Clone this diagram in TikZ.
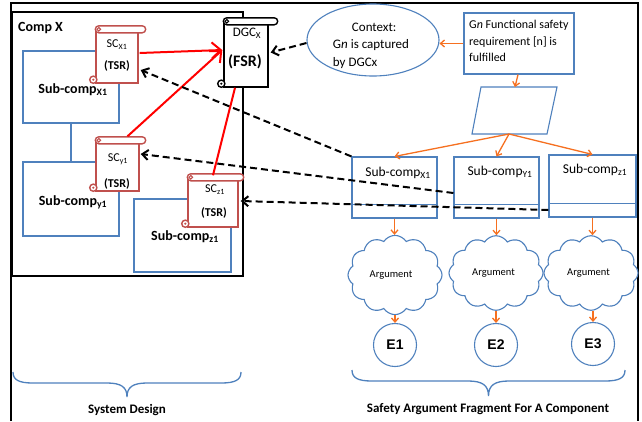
\documentclass[tikz,border=0pt]{standalone}
\usepackage{fontspec}
\setmainfont{Carlito}
\newfontfamily\evfont{Liberation Sans}
\usetikzlibrary{arrows.meta,calc,shapes.geometric,shapes.symbols}

\definecolor{boxblue}{RGB}{79,129,189}
\definecolor{flow}{RGB}{246,112,32}
\definecolor{scred}{RGB}{192,80,77}

% rolled top bar and bottom curl of a scroll-shaped node
\newcommand\scrollroll[3]{%
  \draw[#2, line width=1.4pt, fill=white, rounded corners=3.5pt]
    ($(#1.north west)+(0,-3.5)$) rectangle ($(#1.north east)+(#3,3.5)$);
  \draw[#2, line width=1pt] ($(#1.north west)+(3.5,0)$) circle (1.8pt);
  \draw[#2, line width=1.4pt, fill=white] ($(#1.south west)+(-2,-4)$) circle (3.6pt);
  \fill[#2] ($(#1.south west)+(-2,-4)$) circle (1.2pt);
}

\tikzset{
  bluebox/.style={rectangle, draw=boxblue, line width=1.1pt, fill=white, inner sep=0pt},
  scrollbody/.style={rectangle, draw=#1, line width=1.4pt, fill=white, inner sep=0pt},
  flowarrow/.style={draw=flow, line width=1.3pt, -{Straight Barb[length=4pt,width=7pt]}},
  traceline/.style={black, line width=2pt, dash pattern=on 7pt off 4pt,
    -{Straight Barb[length=6pt,width=10pt]}},
  redlink/.style={red, line width=2pt},
  redarrow/.style={redlink, -{Straight Barb[length=9pt,width=16pt]}},
  brace/.style={draw=boxblue, line width=1.3pt},
  lbl/.style={inner sep=0pt},
  subbold/.style={lbl, font=\bfseries\fontsize{14}{16}\selectfont},
  subreg/.style={lbl, font=\fontsize{13.5}{16}\selectfont},
  sctext/.style={lbl, font=\fontsize{12}{14}\selectfont},
  sctextb/.style={lbl, font=\bfseries\fontsize{12}{14}\selectfont},
  cloudnode/.style={cloud, cloud puffs=12, cloud puff arc=115, draw=boxblue, line width=1.1pt, fill=white,
    minimum width=94pt, minimum height=62pt, inner sep=0pt, font=\fontsize{10.5}{12}\selectfont},
  evnode/.style={circle, draw=boxblue, line width=1.1pt, minimum size=43pt, inner sep=0pt,
    font=\evfont\bfseries\fontsize{14}{16}\selectfont},
  caption/.style={lbl, font=\bfseries\fontsize{13}{15}\selectfont}
}

\begin{document}
\begin{tikzpicture}[x=1pt,y=-1pt]
\useasboundingbox (0,0) rectangle (642,421);
\fill[white] (0,0) rectangle (642,421);

% outer frame
\draw[line width=1.3pt] (11,421) -- (11,3) -- (638,3) -- (638,421);

% ---------------- system design side ----------------
\node[draw, line width=1.4pt, minimum width=231pt, minimum height=264pt, inner sep=0pt] (compx) at (127.5,144) {};
\node[lbl, anchor=west, font=\bfseries\fontsize{14}{16}\selectfont] (compxlbl) at (18,28) {Comp X};

\node[bluebox, minimum width=96pt, minimum height=72pt] (lx1) at (71,87) {};
\node[bluebox, minimum width=96pt, minimum height=74pt] (ly1) at (71,199) {};
\node[bluebox, minimum width=97pt, minimum height=73pt] (lz1) at (182.5,235.5) {};
\draw[boxblue, line width=1.1pt] (lx1.south) -- (ly1.north);

\node[subbold] (lx1t) at (73,90) {Sub-comp\textsubscript{X1}};
\node[subbold] (ly1t) at (73,202) {Sub-comp\textsubscript{y1}};
\node[subbold] (lz1t) at (185,237) {Sub-comp\textsubscript{z1}};

% safety contracts and the design-level guarantee contract
\node[scrollbody=scred, minimum width=42pt, minimum height=53pt] (scx1) at (117,56.5) {};
\scrollroll{scx1}{scred}{7}
\node[sctext] (scx1a) at (117,45) {SC\textsubscript{X1}};
\node[sctextb] (scx1b) at (117,66) {(TSR)};

\node[scrollbody=scred, minimum width=43pt, minimum height=50pt] (scy1) at (117.5,166) {};
\scrollroll{scy1}{scred}{6}
\node[sctext] (scy1a) at (118,159) {SC\textsubscript{y1}};
\node[sctextb] (scy1b) at (117,184) {(TSR)};

\node[scrollbody=scred, minimum width=50pt, minimum height=49pt] (scz1) at (213,202.5) {};
\scrollroll{scz1}{scred}{5}
\node[sctext] (scz1a) at (215,190) {SC\textsubscript{z1}};
\node[sctextb] (scz1b) at (214,213) {(TSR)};

\node[scrollbody=black, minimum width=44pt, minimum height=65pt] (dgc) at (246,54.5) {};
\scrollroll{dgc}{black}{9}
\node[lbl, font=\fontsize{13}{15}\selectfont] (dgca) at (247,33) {DGC\textsubscript{X}};
\node[lbl, font=\bfseries\fontsize{16}{18}\selectfont] (dgcb) at (245,62) {(FSR)};

% contract links
\draw[redarrow] ($(scx1.east)+(1,-3.5)$) -- ($(dgc.west)+(-1,-4.5)$);
\draw[redarrow] ($(scy1.north)+(10,-4)$) -- ($(dgc.west)+(-1,-4.5)$);
\draw[redlink] ($(scz1.north)+(0,-2)$) -- ($(dgc.south)+(-11,0)$);

% ---------------- argument fragment side ----------------
\node[ellipse, draw=boxblue, line width=1.1pt, fill=white, minimum width=132pt, minimum height=72pt, inner sep=0pt] (ctx) at (373,40) {};
\node[lbl, align=left, font=\fontsize{13}{17.5}\selectfont] (ctxt) at (371,45.5)
  {\hspace{19pt}Context:\\G\textit{n} is captured\\by DGCx};

\node[bluebox, minimum width=110pt, minimum height=61pt] (goal) at (519,43.5) {};
\node[lbl, anchor=west, align=left, font=\fontsize{12}{16.5}\selectfont] (goalt) at (469,41)
  {G\textit{n} Functional safety\\requirement [n] is\\fulfilled};

% strategy parallelogram
\draw[boxblue, line width=1.1pt, line join=miter] (481,87) -- (557,87) -- (547,134) -- (472,134) -- cycle;
\coordinate (stratT) at (515,87);
\coordinate (stratB) at (509,134);

\node[bluebox, minimum width=85pt, minimum height=61pt] (rx1) at (394.5,187.5) {};
\node[bluebox, minimum width=85pt, minimum height=61pt] (ry1) at (496.5,187.5) {};
\node[bluebox, minimum width=87pt, minimum height=62pt] (rz1) at (592.5,186) {};
\draw[boxblue, line width=1.1pt] ($(rx1.south west)+(0,-14)$) -- ($(rx1.south east)+(0,-14)$);
\draw[boxblue, line width=1.1pt] ($(ry1.south west)+(0,-14)$) -- ($(ry1.south east)+(0,-14)$);
\draw[boxblue, line width=1.1pt] ($(rz1.south west)+(0,-14)$) -- ($(rz1.south east)+(0,-14)$);
\node[subreg] (rx1t) at (398,173) {Sub-comp\textsubscript{X1}};
\node[subreg] (ry1t) at (500,172) {Sub-comp\textsubscript{Y1}};
\node[subreg] (rz1t) at (595,170) {Sub-comp\textsubscript{z1}};

\node[cloudnode] (arg1) at (395,275) {Argument\hspace*{8pt}};
\node[cloudnode] (arg2) at (496,273) {Argument\hspace*{5pt}};
\node[cloudnode] (arg3) at (591,273) {Argument\hspace*{5pt}};

\node[evnode] (e1) at (395,345) {E1};
\node[evnode] (e2) at (496,345) {E2};
\node[evnode] (e3) at (593,344) {E3};

% argument flow
\draw[flowarrow] (goal.west) -- (ctx.east |- goal.west);
\draw[flowarrow] ($(goal.south)+(-1,0)$) -- (stratT);
\draw[flowarrow] (stratB) -- (rx1.north);
\draw[flowarrow] (stratB) -- (ry1.north);
\draw[flowarrow] (stratB) -- (rz1.north);
\draw[flowarrow] (rx1.south) -- (rx1.south |- arg1.north);
\draw[flowarrow] (ry1.south) -- (ry1.south |- arg2.north);
\draw[flowarrow] (rz1.south) -- (rz1.south |- arg3.north);
\draw[flowarrow] (arg1.south -| e1) -- (e1.north);
\draw[flowarrow] (arg2.south -| e2) -- (e2.north);
\draw[flowarrow] (arg3.south -| e3) -- (e3.north);

% traceability between the two sides
\draw[traceline] ($(ctx.west)+(0,3)$) -- ($(dgc.east)+(2,-2)$);
\draw[traceline] (rx1.north west) -- ($(scx1.east)+(2,13.5)$);
\draw[traceline] ($(ry1.west)+(0,5.5)$) -- ($(scy1.east)+(1,-12)$);
\draw[traceline] ($(rz1.west)+(0,24)$) -- ($(scz1.east)+(2,-1.5)$);

% braces and captions
\draw[brace] (13,372) .. controls (13,380) and (19,383) .. (33,383) -- (107,383)
  .. controls (121,383) and (127,387) .. (127,397)
  .. controls (127,387) and (133,383) .. (147,383) -- (221,383)
  .. controls (235,383) and (241,380) .. (241,372);
\draw[brace] (352,370) .. controls (352,378) and (358,381) .. (372,381) -- (468,381)
  .. controls (482,381) and (488.5,385) .. (488.5,396)
  .. controls (488.5,385) and (495,381) .. (509,381) -- (605,381)
  .. controls (619,381) and (625,378) .. (625,370);
\node[caption] (sysd) at (127,410) {System Design};
\node[caption] (safety) at (488,409) {Safety Argument Fragment For A Component};
\end{tikzpicture}
\end{document}
